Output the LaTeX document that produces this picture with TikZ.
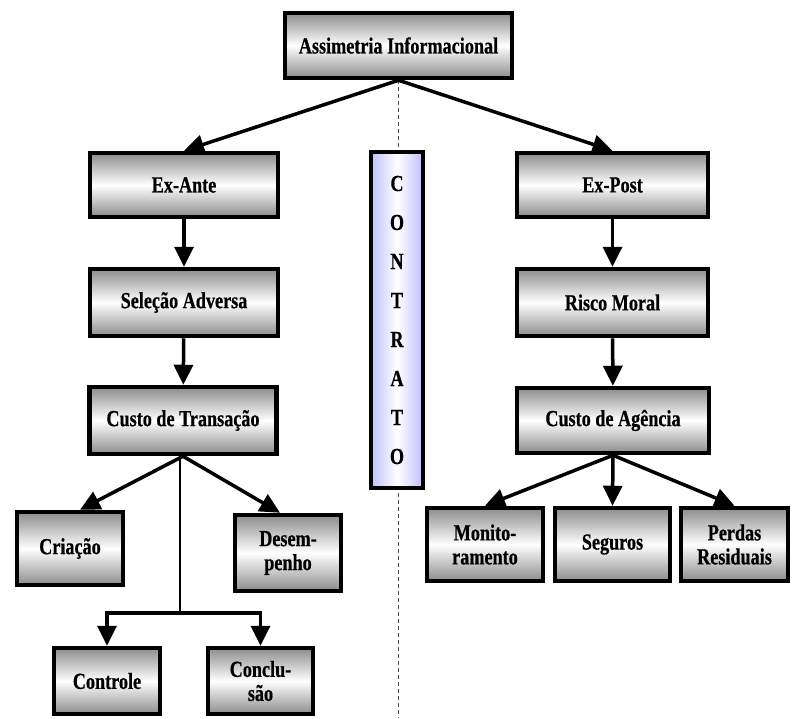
\documentclass[tikz,border=0pt]{standalone}
\usepackage{fontspec}
\setmainfont[FakeStretch=0.79,FakeBold=0.6]{Liberation Serif}
\usetikzlibrary{arrows.meta}

\tikzset{
  box/.style={draw=black, line width=4.5pt, top color=gray!90, bottom color=gray!90, middle color=white,
    font=\fontsize{23}{24}\selectfont\bfseries, align=center, inner sep=2pt},
  contratobox/.style={draw=black, line width=4.5pt, left color=blue!25, right color=blue!25, middle color=white,
    font=\fontsize{23}{39}\selectfont\bfseries, align=center, minimum width=52pt, minimum height=336pt},
  arr/.style={-{Triangle[width=19pt,length=20pt]}, line width=3.5pt},
}

\begin{document}
\begin{tikzpicture}[x=1pt, y=-1pt]
\useasboundingbox (0,0) rectangle (792,718);

\node[box, minimum width=227pt, minimum height=65pt] (top) at (398.5,45.5) {Assimetria Informacional};

\node[box, minimum width=188pt, minimum height=64pt] (exante) at (184,185) {Ex-Ante};
\node[box, minimum width=188pt, minimum height=67pt] (selecao) at (184,302.5) {Seleção Adversa};
\node[box, minimum width=187pt, minimum height=67pt] (custotr) at (183,420.5) {Custo de Transação};

\node[box, minimum width=106pt, minimum height=73pt] (criacao) at (70,548.5) {Criação};
\node[box, minimum width=106pt, minimum height=76pt] (desempenho) at (288,553) {Desem-\\penho};
\node[box, minimum width=106pt, minimum height=66pt] (controle) at (107,681) {Controle};
\node[box, minimum width=105pt, minimum height=66pt] (conclusao) at (260.5,681) {Conclu-\\são};

\node[box, minimum width=191pt, minimum height=64pt] (expost) at (612.5,185) {Ex-Post};
\node[box, minimum width=191pt, minimum height=67pt] (risco) at (612.5,302.5) {Risco Moral};
\node[box, minimum width=192pt, minimum height=65pt] (custoag) at (613,420.5) {Custo de Agência};

\node[box, minimum width=116pt, minimum height=73pt] (monit) at (485,544.5) {Monito-\\ramento};
\node[box, minimum width=115pt, minimum height=73pt] (seguros) at (612.5,544.5) {Seguros};
\node[box, minimum width=107pt, minimum height=73pt] (perdas) at (734.5,544.5) {Perdas\\Residuais};

\coordinate (bot) at (top.south |- 0,718);
\draw[dash pattern=on 4pt off 3pt, line width=1pt, black!70] (top.south) -- (bot);

\node[contratobox] (contrato) at (397,320) {C\\O\\N\\T\\R\\A\\T\\O};

\draw[arr] (top.south) -- (exante.north);
\draw[arr] (top.south) -- (expost.north);

\draw[arr] (exante) -- (selecao);
\draw[arr] (selecao) -- (custotr);
\draw[arr] (custotr.south) -- ([xshift=10pt]criacao.north);
\draw[arr] (custotr.south) -- ([xshift=-8pt]desempenho.north);

\coordinate (split) at ([xshift=-3pt]custotr.south |- 0,613);
\draw[line width=2pt] ([xshift=-3pt]custotr.south) -- (split);
\draw[arr] (split) -| (controle.north);
\draw[arr] (split) -| (conclusao.north);

\draw[arr] (expost) -- (risco);
\draw[arr] (risco) -- (custoag);
\draw[arr] (custoag.south) -- (monit.north);
\draw[arr] (custoag.south) -- (seguros.north);
\draw[arr] (custoag.south) -- (perdas.north);
\end{tikzpicture}
\end{document}
